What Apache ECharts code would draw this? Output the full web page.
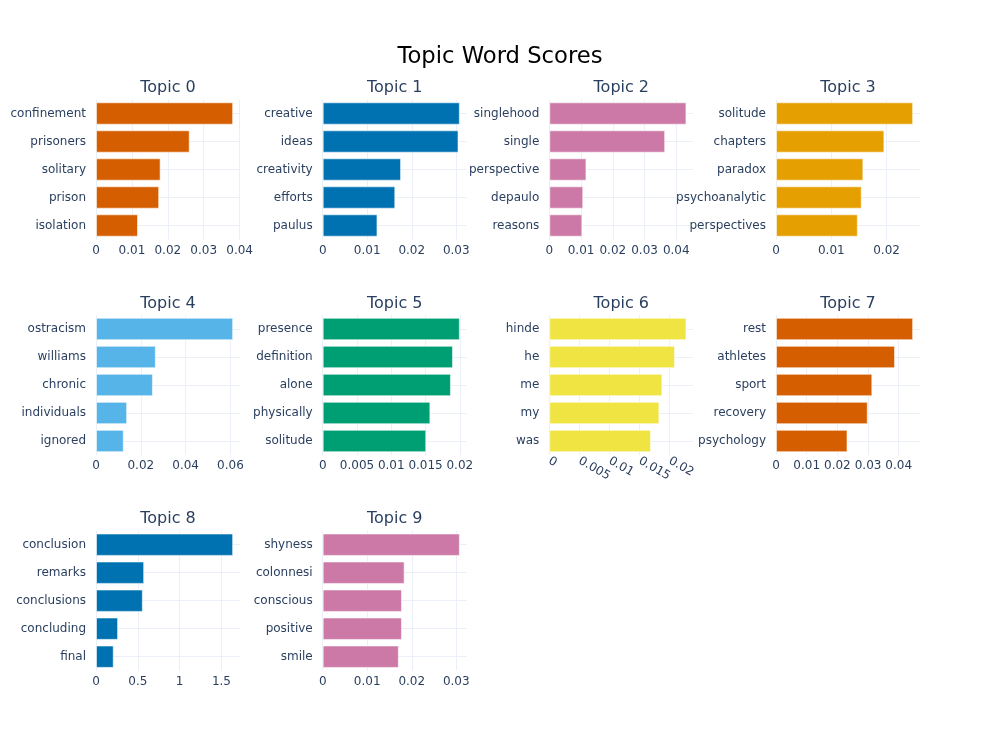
<!DOCTYPE html>
<html>
<head>
<meta charset="utf-8">
<script src="https://cdn.jsdelivr.net/npm/echarts@6/dist/echarts.min.js"></script>
<style>html,body{margin:0;padding:0;background:#fff}#c{width:1000px;height:750px}</style>
</head>
<body>
<div id="c"></div>
<script>
const t0Words = ["confinement", "prisoners", "solitary", "prison", "isolation"];
const t0Scores = [0.0382, 0.0261, 0.0180, 0.0176, 0.0117];
const t1Words = ["creative", "ideas", "creativity", "efforts", "paulus"];
const t1Scores = [0.0308, 0.0305, 0.0176, 0.0163, 0.0123];
const t2Words = ["singlehood", "single", "perspective", "depaulo", "reasons"];
const t2Scores = [0.0432, 0.0365, 0.0117, 0.0107, 0.0104];
const t3Words = ["solitude", "chapters", "paradox", "psychoanalytic", "perspectives"];
const t3Scores = [0.0248, 0.0196, 0.0158, 0.0155, 0.0148];
const t4Words = ["ostracism", "williams", "chronic", "individuals", "ignored"];
const t4Scores = [0.0612, 0.0267, 0.0254, 0.0139, 0.0124];
const t5Words = ["presence", "definition", "alone", "physically", "solitude"];
const t5Scores = [0.0200, 0.0190, 0.0187, 0.0157, 0.0151];
const t6Words = ["hinde", "he", "me", "my", "was"];
const t6Scores = [0.0228, 0.0209, 0.0188, 0.0183, 0.0169];
const t7Words = ["rest", "athletes", "sport", "recovery", "psychology"];
const t7Scores = [0.0447, 0.0388, 0.0314, 0.0299, 0.0233];
const t8Words = ["conclusion", "remarks", "conclusions", "concluding", "final"];
const t8Scores = [1.64, 0.576, 0.560, 0.264, 0.212];
const t9Words = ["shyness", "colonnesi", "conscious", "positive", "smile"];
const t9Scores = [0.0308, 0.0184, 0.0178, 0.0178, 0.0171];

const topicNames = ["Topic 0","Topic 1","Topic 2","Topic 3","Topic 4","Topic 5","Topic 6","Topic 7","Topic 8","Topic 9"];
const tickSteps = [0.01, 0.01, 0.01, 0.01, 0.02, 0.005, 0.005, 0.01, 0.5, 0.01];
const colors = ["#D55E00","#0072B2","#CC79A7","#E69F00","#56B4E9","#009E73","#F0E442","#D55E00","#0072B2","#CC79A7"];

const topics = [
  [t0Words, t0Scores], [t1Words, t1Scores], [t2Words, t2Scores], [t3Words, t3Scores],
  [t4Words, t4Scores], [t5Words, t5Scores], [t6Words, t6Scores], [t7Words, t7Scores],
  [t8Words, t8Scores], [t9Words, t9Scores]
];

const FONT = '"DejaVu Sans", Verdana, sans-serif';
const TXT = '#2a3f5f';
const GRID = '#EBF0F8';
const lefts = [96, 322.7, 549.3, 776];
const tops = [99.5, 315, 530.7];
const W = 144, H = 140;

const grids = [], xAxes = [], yAxes = [], series = [], titles = [];
titles.push({
  text: 'Topic Word Scores', left: 500, top: 46, textAlign: 'center', padding: 0,
  textStyle: {fontFamily: FONT, fontSize: 22.7, fontWeight: 'normal', color: '#000'}
});
topics.forEach(([words, scores], i) => {
  const col = i % 4, row = Math.floor(i / 4);
  const left = lefts[col], top = tops[row];
  grids.push({left: left, top: top, width: W, height: H, containLabel: false});
  titles.push({
    text: topicNames[i], left: left + W / 2, top: top - 19.5, textAlign: 'center', padding: 0,
    textStyle: {fontFamily: FONT, fontSize: 16, fontWeight: 'normal', color: TXT}
  });
  const step = tickSteps[i];
  const mx = Math.max(...scores) * 1.05;
  xAxes.push({
    type: 'value', gridIndex: i, min: 0, max: mx, interval: step,
    axisLine: {show: false}, axisTick: {show: false},
    axisLabel: {
      fontFamily: FONT, fontSize: 12, color: TXT, margin: 5, showMaxLabel: false, hideOverlap: false,
      rotate: i === 6 ? -30 : 0
    },
    splitLine: {show: true, showMaxLine: false, lineStyle: {color: GRID, width: 1}}
  });
  yAxes.push({
    type: 'category', gridIndex: i, data: words, inverse: true,
    axisLine: {show: false}, axisTick: {show: false, alignWithLabel: true},
    axisLabel: {fontFamily: FONT, fontSize: 12, color: TXT, margin: 10, interval: 0},
    splitLine: {show: true, alignWithLabel: true, lineStyle: {color: GRID, width: 1}}
  });
  series.push({
    type: 'bar', xAxisIndex: i, yAxisIndex: i, data: scores,
    barCategoryGap: '20%',
    itemStyle: {color: colors[i], borderColor: 'rgba(255,255,255,0.55)', borderWidth: 1},
    emphasis: {disabled: true}
  });
});

const chart = echarts.init(document.getElementById('c'), null, {renderer: 'canvas'});
chart.setOption({
  backgroundColor: '#fff',
  animation: false,
  title: titles,
  grid: grids,
  xAxis: xAxes,
  yAxis: yAxes,
  series: series
});
</script>
</body>
</html>
